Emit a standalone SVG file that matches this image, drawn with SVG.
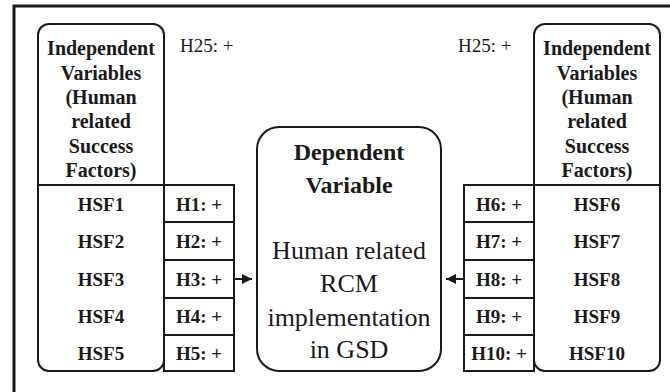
<svg xmlns="http://www.w3.org/2000/svg" width="670" height="392" viewBox="0 0 670 392">
<defs>
<style>
.frame{fill:none;stroke:#1a1a1a;stroke-width:3}
.box{fill:#fff;stroke:#1a1a1a;stroke-width:2}
.ln{stroke:#1a1a1a;stroke-width:2;fill:none}
text{font-family:"Liberation Serif","Times New Roman",serif;fill:#1a1a1a;text-anchor:middle}
.hdr{font-size:20px;font-weight:bold}
.hsf{font-size:19px;font-weight:bold}
.hyp{font-size:19px;font-weight:bold}
.h25{font-size:19px;text-anchor:start}
.dvb{font-size:24px;font-weight:bold}
.dvr{font-size:26px}
</style>
<marker id="ah" viewBox="0 0 10 10" refX="10" refY="5" markerWidth="12" markerHeight="10" markerUnits="userSpaceOnUse" orient="auto">
<path d="M0,0 L10,5 L0,10 Z" fill="#1a1a1a"/>
</marker>
</defs>
<rect width="670" height="392" fill="#fff"/>
<rect class="frame" x="14" y="6" width="700" height="420"/>

<g id="left-node">
<rect class="box" x="38" y="24" width="126" height="347" rx="11"/>
<line class="ln" x1="38" y1="185" x2="234" y2="185"/>
<text class="hdr" x="101" y="55">Independent</text>
<text class="hdr" x="101" y="79.5">Variables</text>
<text class="hdr" x="101" y="104">(Human</text>
<text class="hdr" x="101" y="128">related</text>
<text class="hdr" x="101" y="152.5">Success</text>
<text class="hdr" x="101" y="177">Factors)</text>
<text class="hsf" x="101" y="211">HSF1</text>
<text class="hsf" x="101" y="248">HSF2</text>
<text class="hsf" x="101" y="286">HSF3</text>
<text class="hsf" x="101" y="323">HSF4</text>
<text class="hsf" x="101" y="360">HSF5</text>
</g>

<g id="left-hyp">
<rect class="box" x="164" y="185" width="70" height="37"/>
<rect class="box" x="164" y="222" width="70" height="38"/>
<rect class="box" x="164" y="260" width="70" height="38"/>
<rect class="box" x="164" y="298" width="70" height="37"/>
<rect class="box" x="164" y="335" width="70" height="36"/>
<text class="hyp" x="199" y="211">H1: +</text>
<text class="hyp" x="199" y="248">H2: +</text>
<text class="hyp" x="199" y="286">H3: +</text>
<text class="hyp" x="199" y="323">H4: +</text>
<text class="hyp" x="199" y="360">H5: +</text>
</g>

<g id="h25-left"><text class="h25" x="180" y="52">H25: +</text></g>
<g id="h25-right"><text class="h25" x="458" y="52">H25: +</text></g>

<g id="dependent">
<rect class="box" x="257" y="127" width="184" height="244" rx="22"/>
<text class="dvb" x="349" y="160">Dependent</text>
<text class="dvb" x="349" y="193">Variable</text>
<text class="dvr" x="349" y="259">Human related</text>
<text class="dvr" x="349" y="292">RCM</text>
<text class="dvr" x="349" y="326">implementation</text>
<text class="dvr" x="349" y="358">in GSD</text>
</g>

<g id="right-hyp">
<rect class="box" x="464" y="185" width="70" height="37"/>
<rect class="box" x="464" y="222" width="70" height="38"/>
<rect class="box" x="464" y="260" width="70" height="38"/>
<rect class="box" x="464" y="298" width="70" height="37"/>
<rect class="box" x="464" y="335" width="70" height="36"/>
<text class="hyp" x="499" y="211">H6: +</text>
<text class="hyp" x="499" y="248">H7: +</text>
<text class="hyp" x="499" y="286">H8: +</text>
<text class="hyp" x="499" y="323">H9: +</text>
<text class="hyp" x="499" y="360">H10: +</text>
</g>

<g id="right-node">
<rect class="box" x="534" y="24" width="126" height="347" rx="11"/>
<line class="ln" x1="464" y1="185" x2="660" y2="185"/>
<text class="hdr" x="597" y="55">Independent</text>
<text class="hdr" x="597" y="79.5">Variables</text>
<text class="hdr" x="597" y="104">(Human</text>
<text class="hdr" x="597" y="128">related</text>
<text class="hdr" x="597" y="152.5">Success</text>
<text class="hdr" x="597" y="177">Factors)</text>
<text class="hsf" x="597" y="211">HSF6</text>
<text class="hsf" x="597" y="248">HSF7</text>
<text class="hsf" x="597" y="286">HSF8</text>
<text class="hsf" x="597" y="323">HSF9</text>
<text class="hsf" x="597" y="360">HSF10</text>
</g>

<g id="connectors">
<line class="ln" x1="234" y1="279" x2="252" y2="279" marker-end="url(#ah)"/>
<line class="ln" x1="464" y1="279" x2="446" y2="279" marker-end="url(#ah)"/>
</g>
</svg>
